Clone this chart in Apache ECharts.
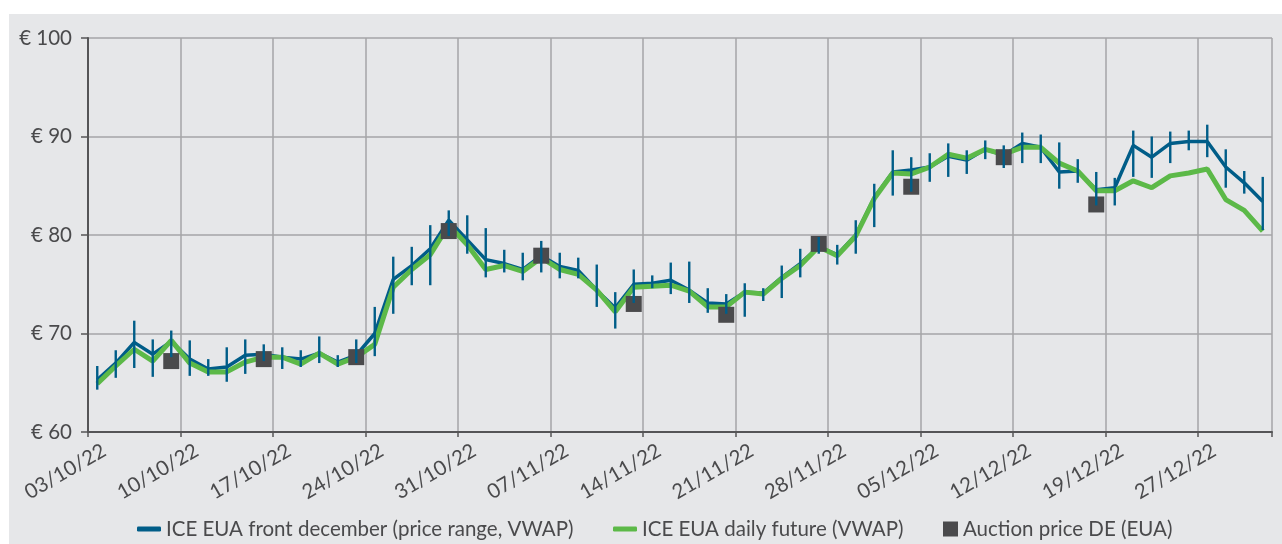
<!DOCTYPE html>
<html>
<head>
<meta charset="utf-8">
<script src="https://cdn.jsdelivr.net/npm/echarts@6/dist/echarts.min.js"></script>
<style>
html,body{margin:0;padding:0;background:#ffffff;width:1282px;height:544px;overflow:hidden;}
#bg{position:absolute;left:9px;top:14px;width:1273px;height:530px;background:#e6e7e9;}
#chart{position:absolute;left:0;top:0;width:1282px;height:544px;}
</style>
</head>
<body>
<div id="bg"></div>
<div id="chart"></div>
<script>
const dates = ["03/10/22","04/10/22","05/10/22","06/10/22","07/10/22",
"10/10/22","11/10/22","12/10/22","13/10/22","14/10/22",
"17/10/22","18/10/22","19/10/22","20/10/22","21/10/22",
"24/10/22","25/10/22","26/10/22","27/10/22","28/10/22",
"31/10/22","01/11/22","02/11/22","03/11/22","04/11/22",
"07/11/22","08/11/22","09/11/22","10/11/22","11/11/22",
"14/11/22","15/11/22","16/11/22","17/11/22","18/11/22",
"21/11/22","22/11/22","23/11/22","24/11/22","25/11/22",
"28/11/22","29/11/22","30/11/22","01/12/22","02/12/22",
"05/12/22","06/12/22","07/12/22","08/12/22","09/12/22",
"12/12/22","13/12/22","14/12/22","15/12/22","16/12/22",
"19/12/22","20/12/22","21/12/22","22/12/22","23/12/22",
"27/12/22","28/12/22","29/12/22","30/12/22"];

const frontDecVWAP = [65.3,67.0,69.1,67.9,69.2, 67.4,66.4,66.6,67.8,67.9,
67.6,67.4,68.0,67.1,67.8, 70.0,75.5,76.9,78.6,81.5,
79.5,77.5,77.1,76.5,77.9, 76.8,76.4,74.4,72.6,75.0,
75.1,75.4,74.4,73.1,73.0, 74.2,74.1,75.7,77.1,78.8,
78.0,80.0,83.8,86.4,86.6, 86.9,88.0,87.6,88.7,88.1,
89.3,88.9,86.4,86.5,84.6, 84.8,89.1,87.9,89.3,89.5,
89.5,86.9,85.3,83.4];

const frontDecHigh = [66.7,68.3,71.3,69.4,70.3, 69.3,67.4,68.6,69.4,68.9,
68.6,68.3,69.7,67.8,69.4, 72.7,77.8,78.8,81.0,82.5,
82.0,80.7,78.5,78.2,79.4, 78.2,77.7,77.0,74.2,76.5,
75.9,77.2,77.3,74.6,74.0, 75.1,74.6,76.9,78.6,79.8,
79.0,81.5,85.2,88.6,87.9, 88.3,89.3,88.6,89.6,89.1,
90.4,90.2,89.4,87.7,86.4, 85.8,90.6,90.0,90.5,90.6,
91.2,88.7,86.5,85.9];

const frontDecLow = [64.3,65.5,66.5,65.6,67.6, 65.7,65.7,65.1,65.9,67.2,
66.4,66.6,67.0,66.6,67.0, 67.7,72.0,74.9,74.9,79.9,
78.1,75.7,76.2,75.4,76.2, 75.6,75.6,72.7,70.5,73.1,
74.6,74.0,73.1,72.1,72.0, 71.7,73.3,73.6,75.7,78.1,
77.0,78.1,80.8,84.0,84.4, 85.4,85.9,86.2,87.7,86.8,
87.3,87.3,84.7,85.3,83.0, 83.0,85.9,85.8,87.3,88.6,
87.9,84.8,84.2,80.5];

const dailyFutureVWAP = [64.9,66.7,68.4,67.2,69.3, 67.0,66.1,66.1,67.1,67.6,
67.6,66.9,68.0,66.9,67.6, 68.9,74.7,76.5,78.0,81.0,
79.0,76.5,76.9,76.3,77.7, 76.5,76.0,74.4,72.2,74.7,
74.8,74.9,74.3,72.7,72.7, 74.2,74.0,75.6,76.9,78.8,
77.9,79.9,83.7,86.3,86.2, 86.9,88.2,87.8,88.7,88.2,
88.9,88.9,87.3,86.5,84.5, 84.5,85.5,84.8,86.0,86.3,
86.7,83.6,82.5,80.4];

const auctionDates = ["07/10/22","14/10/22","21/10/22","28/10/22","04/11/22","11/11/22","18/11/22","25/11/22","02/12/22","09/12/22","16/12/22"];
const auctionPrices = [67.2,67.4,67.6,80.4,77.9,73.0,71.9,79.1,84.9,87.9,83.1];

const yTicks = [60,70,80,90,100];

const NAME_FRONT = 'ICE EUA front december (price range, VWAP)';
const NAME_DAILY = 'ICE EUA daily future (VWAP)';
const NAME_AUCT = 'Auction price DE (EUA)';

const BLUE = '#005d88';
const GREEN = '#5cb948';
const DARK = '#4a4a4c';
const TXT = '#4a4a4c';
const FONT = 'Lato, "Noto Sans", sans-serif';

const chart = echarts.init(document.getElementById('chart'), null, {renderer:'canvas'});

const legendBase = {
  orient:'horizontal', top:512, itemGap:30,
  textStyle:{color:TXT, fontSize:20.5, fontFamily:FONT, lineHeight:24},
  selectedMode:false
};

chart.setOption({
  animation:false,
  backgroundColor:'transparent',
  grid:{left:88, top:38, width:1184, height:394, containLabel:false},
  legend:[
    Object.assign({}, legendBase, {left:132, data:[{name:NAME_FRONT, icon:'roundRect'}], itemWidth:24, itemHeight:5}),
    Object.assign({}, legendBase, {left:608, data:[{name:NAME_DAILY, icon:'roundRect'}], itemWidth:24, itemHeight:5}),
    Object.assign({}, legendBase, {left:938, data:[{name:NAME_AUCT, icon:'rect'}], itemWidth:15, itemHeight:15})
  ],
  xAxis:{
    type:'category', data:dates, boundaryGap:true,
    axisLine:{show:true, lineStyle:{color:'#555557', width:2}},
    axisTick:{show:true, interval:4, length:5, lineStyle:{color:'#555557', width:1.5}},
    splitLine:{show:true, interval:4, lineStyle:{color:'#a4a5a7', width:1.5}},
    axisLabel:{interval:4, rotate:30, margin:21, padding:[0,-8,0,0], color:TXT, fontSize:20.5, fontFamily:FONT}
  },
  yAxis:{
    type:'value', min:yTicks[0], max:yTicks[yTicks.length-1], interval:10,
    axisLine:{show:true, lineStyle:{color:'#555557', width:2}},
    axisTick:{show:true, length:7, lineStyle:{color:'#555557', width:1.5}},
    splitLine:{show:true, lineStyle:{color:'#a4a5a7', width:1.5}},
    axisLabel:{formatter:'€ {value}', margin:16, color:TXT, fontSize:20.5, fontFamily:FONT}
  },
  series:[
    {name:NAME_FRONT, type:'line', data:frontDecVWAP, showSymbol:false, symbol:'none',
     itemStyle:{color:BLUE}, lineStyle:{color:BLUE, width:3.5}, z:2},
    {name:NAME_DAILY, type:'line', data:dailyFutureVWAP, showSymbol:false, symbol:'none',
     itemStyle:{color:GREEN}, lineStyle:{color:GREEN, width:5}, z:3},
    {name:NAME_AUCT, type:'scatter', symbol:'rect', symbolSize:16,
     data:auctionDates.map((d,i)=>[d, auctionPrices[i]]),
     itemStyle:{color:DARK, opacity:1}, z:4},
    {name:'range', type:'custom', z:5,
     data:dates.map((d,i)=>[i, frontDecHigh[i], frontDecLow[i]]),
     encode:{x:0, y:[1,2]},
     renderItem:function(params, api){
       const hi = api.coord([api.value(0), api.value(1)]);
       const lo = api.coord([api.value(0), api.value(2)]);
       return {type:'line', shape:{x1:hi[0], y1:hi[1], x2:lo[0], y2:lo[1]},
               style:{stroke:BLUE, lineWidth:2.4}};
     }}
  ]
});
</script>
</body>
</html>
